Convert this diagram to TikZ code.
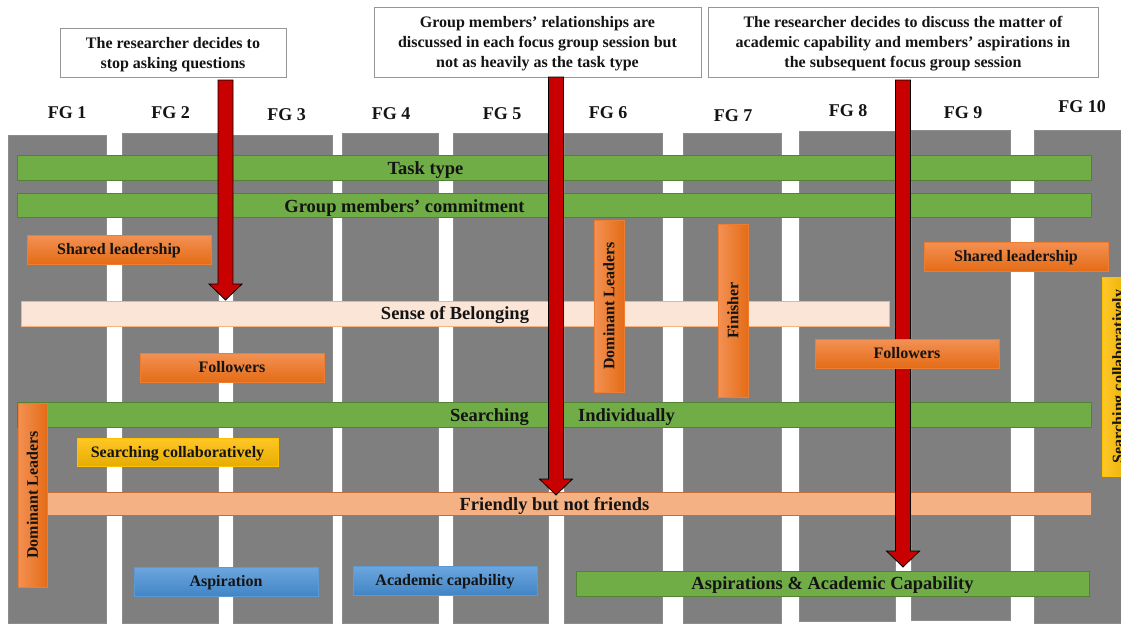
\documentclass[tikz,border=0pt]{standalone}
\usepackage{fontspec}
\setmainfont{Liberation Serif}
\usetikzlibrary{calc}

\definecolor{colgray}{RGB}{127,127,127}
\definecolor{coledge}{RGB}{140,140,140}
\definecolor{barGreen}{RGB}{112,173,71}
\definecolor{barGreenEdge}{RGB}{84,130,53}
\definecolor{orLight}{RGB}{243,145,84}
\definecolor{orDark}{RGB}{228,108,22}
\definecolor{orEdge}{RGB}{237,125,49}
\definecolor{peach}{RGB}{251,229,214}
\definecolor{peachEdge}{RGB}{244,177,131}
\definecolor{salmon}{RGB}{244,177,131}
\definecolor{salmonEdge}{RGB}{197,110,60}
\definecolor{ylLight}{RGB}{255,199,40}
\definecolor{ylDark}{RGB}{230,172,0}
\definecolor{ylEdge}{RGB}{255,192,0}
\definecolor{blLight}{RGB}{108,166,222}
\definecolor{blDark}{RGB}{66,133,198}
\definecolor{blEdge}{RGB}{91,155,213}
\definecolor{arrowRed}{RGB}{200,0,0}
\definecolor{ink}{RGB}{20,20,20}
\definecolor{calloutEdge}{RGB}{150,150,150}

% text sizes
\newcommand\txtS{\fontsize{16}{20}\selectfont\bfseries}
\newcommand\txtL{\fontsize{18.5}{22}\selectfont\bfseries}
\newcommand\txtH{\fontsize{18}{22}\selectfont\bfseries}

\tikzset{
  plain/.style={inner sep=0pt, outer sep=0pt, text=ink},
  % centre single-line labels on their capital letters
  capS/.style={font=\txtS, text height=10.6pt, text depth=0pt},
  capL/.style={font=\txtL, text height=12.2pt, text depth=0pt},
  capH/.style={font=\txtH, text height=11.9pt, text depth=0pt},
  column/.style={plain, fill=colgray, draw=coledge, line width=0.6pt},
  greenbar/.style={plain, capL, fill=barGreen, draw=barGreenEdge, line width=0.8pt},
  orangebar/.style={plain, capS, top color=orLight, bottom color=orDark, draw=orEdge, line width=0.6pt},
  orangeup/.style={plain, left color=orLight, right color=orDark, draw=orEdge, line width=0.6pt},
  yellowbar/.style={plain, capS, top color=ylLight, bottom color=ylDark, draw=ylEdge, line width=0.6pt},
  yellowup/.style={plain, left color=ylLight, right color=ylDark, draw=ylEdge, line width=0.6pt},
  bluebar/.style={plain, capS, top color=blLight, bottom color=blDark, draw=blEdge, line width=0.6pt},
  peachbar/.style={plain, fill=peach, draw=peachEdge, line width=0.8pt},
  salmonbar/.style={plain, fill=salmon, draw=salmonEdge, line width=0.8pt},
  callout/.style={plain, fill=white, draw=calloutEdge, line width=0.8pt, font=\txtS, align=center, text depth=0pt},
  fglabel/.style={plain, capH},
  bartext/.style={plain, capL},
  uptext/.style={plain, capS, rotate=90},
  redarrow/.style={fill=arrowRed, draw=black, line width=0.8pt, line join=miter},
}

% rectangle node given by its corners: [style]{name}{x1}{y1}{x2}{y2}{text}
\newcommand\fgrect[7][]{%
  \node[#1, minimum width={(#5-#3)*1pt}, minimum height={(#6-#4)*1pt}]
    (#2) at ({(#3+#5)/2},{(#4+#6)/2}) {#7};}

% block arrow: {x}{from node}{gap below it}{to node}{tip offset}
\newcommand\fgarrow[5]{%
  \path[redarrow] let \p1=(#2.south), \p2=(#4.north) in
    ({#1pt-7.5pt},{\y1-#3}) -- ({#1pt+7.5pt},{\y1-#3})
    -- ({#1pt+7.5pt},{\y2#5+16pt}) -- ({#1pt+16.5pt},{\y2#5+16pt})
    -- ({#1pt},{\y2#5}) -- ({#1pt-16.5pt},{\y2#5+16pt})
    -- ({#1pt-7.5pt},{\y2#5+16pt}) -- cycle;}

\begin{document}
\begin{tikzpicture}[x=1pt, y=-1pt]
  \useasboundingbox (0,0) rectangle (1121,625);
  \clip (0,0) rectangle (1121,625);
  \fill[white] (0,0) rectangle (1121,625);

  % session columns
  \fgrect[column]{c1}{8}{135}{106}{623}{}
  \fgrect[column]{c2}{122}{133}{218}{623}{}
  \fgrect[column]{c3}{233}{135}{332}{623}{}
  \fgrect[column]{c4}{342}{133}{438}{623}{}
  \fgrect[column]{c5}{453}{133}{548}{623}{}
  \fgrect[column]{c6}{564}{133}{662}{623}{}
  \fgrect[column]{c7}{683}{133}{781}{623}{}
  \fgrect[column]{c8}{799}{131}{895}{621}{}
  \fgrect[column]{c9}{911}{130}{1010}{620}{}
  \fgrect[column]{c10}{1034}{130}{1130}{623}{}

  % session headings
  \node[fglabel] (fg1) at (67,113) {FG 1};
  \node[fglabel] (fg2) at (170.5,113) {FG 2};
  \node[fglabel] (fg3) at (286.5,115) {FG 3};
  \node[fglabel] (fg4) at (391,114) {FG 4};
  \node[fglabel] (fg5) at (502,114) {FG 5};
  \node[fglabel] (fg6) at (608,113) {FG 6};
  \node[fglabel] (fg7) at (733,116) {FG 7};
  \node[fglabel] (fg8) at (848,111) {FG 8};
  \node[fglabel] (fg9) at (963,113) {FG 9};
  \node[fglabel] (fg10) at (1082,106.5) {FG 10};

  % researcher notes
  \fgrect[callout]{note1}{60}{28}{286}{77}{The researcher decides to\\stop asking questions}
  \fgrect[callout]{note2}{374}{7}{701}{77}{Group members’ relationships are\\discussed in each focus group session but\\not as heavily as the task type}
  \fgrect[callout]{note3}{708}{7}{1098}{77}{The researcher decides to discuss the matter of\\academic capability and members’ aspirations in\\the subsequent focus group session}

  % themes running across the sessions
  \fgrect[greenbar]{task}{17}{155}{1091}{180}{}
  \node[bartext] (task-t) at (425.5,168.5) {Task type};
  \fgrect[greenbar]{commit}{17}{193}{1091}{217}{}
  \node[bartext] (commit-t) at (404.5,206) {Group members’ commitment};

  \fgrect[orangebar]{shared1}{27}{235}{211}{264}{Shared leadership}
  \fgrect[peachbar]{belong}{21}{301}{889}{326}{}
  \node[bartext] (belong-t) at (455,313.5) {Sense of Belonging};

  \fgrect[orangeup]{dom6}{594}{220}{624}{392}{}
  \node[uptext] (dom6-t) at (dom6) {Dominant Leaders};
  \fgrect[orangeup]{finish}{718}{224}{748}{397}{}
  \node[uptext] (finish-t) at (finish) {Finisher};
  \fgrect[orangebar]{shared2}{924}{242}{1108}{271}{Shared leadership}
  \fgrect[yellowup]{searchc2}{1102}{277}{1134}{476}{}
  \node[uptext] (searchc2-t) at (searchc2) {Searching collaboratively};

  \fgrect[orangebar]{follow1}{140}{353}{324}{382}{Followers}

  \fgrect[greenbar]{search}{17}{402}{1091}{427}{}
  \node[bartext] (search-t1) at (489.5,415) {Searching};
  \node[bartext] (search-t2) at (626.5,415) {Individually};

  \fgrect[yellowbar]{searchc1}{77}{438}{278}{466}{Searching collaboratively}
  \fgrect[salmonbar]{friendly}{47}{492}{1091}{515}{}
  \node[bartext] (friendly-t) at (554.5,504.5) {Friendly but not friends};
  \fgrect[orangeup]{dom1}{18}{403}{47}{587}{}
  \node[uptext] (dom1-t) at (dom1) {Dominant Leaders};

  \fgrect[bluebar]{aspir}{134}{567}{318}{596}{Aspiration}
  \fgrect[bluebar]{academic}{353}{566}{537}{595}{Academic capability}
  \fgrect[greenbar]{aspac}{576}{571}{1089}{596}{Aspirations \& Academic Capability}

  % decisions pointing at the themes they concern
  \fgarrow{225.5}{note1}{3pt}{belong}{+1pt}
  \fgarrow{556}{note2}{0pt}{friendly}{-3pt}
  \fgarrow{903}{note3}{3pt}{aspac}{+4pt}

  % drawn over the third arrow
  \fgrect[orangebar]{follow2}{815}{339}{999}{368}{Followers}
\end{tikzpicture}
\end{document}
